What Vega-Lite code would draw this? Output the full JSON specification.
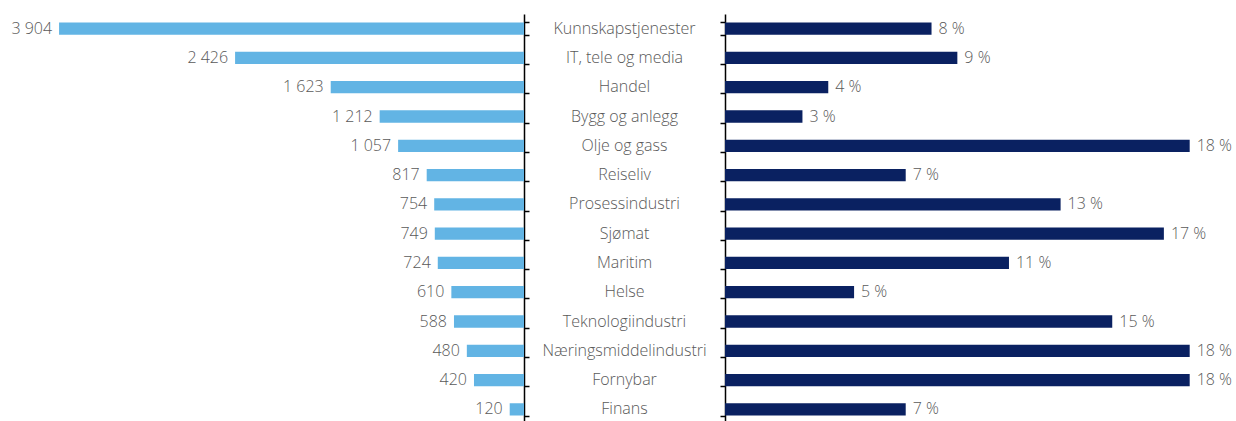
{
  "$schema": "https://vega.github.io/schema/vega-lite/v6.json",
  "padding": {"top": 14, "left": 0, "right": 0, "bottom": 0},
  "config": {
    "view": {"stroke": null},
    "font": "Open Sans",
    "locale": {"number": {"decimal": ",", "thousands": " ", "grouping": [3], "currency": ["", " kr"]}}
  },
  "spacing": 0,
  "bounds": "flush",
  "data": {"values": [
    {"bransje": "Kunnskapstjenester", "antall": 3904, "andel": 8},
    {"bransje": "IT, tele og media", "antall": 2426, "andel": 9},
    {"bransje": "Handel", "antall": 1623, "andel": 4},
    {"bransje": "Bygg og anlegg", "antall": 1212, "andel": 3},
    {"bransje": "Olje og gass", "antall": 1057, "andel": 18},
    {"bransje": "Reiseliv", "antall": 817, "andel": 7},
    {"bransje": "Prosessindustri", "antall": 754, "andel": 13},
    {"bransje": "Sjømat", "antall": 749, "andel": 17},
    {"bransje": "Maritim", "antall": 724, "andel": 11},
    {"bransje": "Helse", "antall": 610, "andel": 5},
    {"bransje": "Teknologiindustri", "antall": 588, "andel": 15},
    {"bransje": "Næringsmiddelindustri", "antall": 480, "andel": 18},
    {"bransje": "Fornybar", "antall": 420, "andel": 18},
    {"bransje": "Finans", "antall": 120, "andel": 7}
  ]},
  "transform": [{"calculate": "datum.andel + ' %'", "as": "label"}],
  "hconcat": [
    {
      "width": 524,
      "height": 410,
      "encoding": {
        "y": {"field": "bransje", "type": "nominal",
              "sort": ["Kunnskapstjenester", "IT, tele og media", "Handel", "Bygg og anlegg", "Olje og gass", "Reiseliv", "Prosessindustri", "Sjømat", "Maritim", "Helse", "Teknologiindustri", "Næringsmiddelindustri", "Fornybar", "Finans"],
              "scale": {"paddingInner": 0.58, "paddingOuter": 0.29},
              "axis": {"orient": "right", "title": null, "labels": false, "tickBand": "extent", "minExtent": 0,
                       "domainColor": "#000000", "domainWidth": 1.5, "tickColor": "#000000", "tickWidth": 1.5, "tickSize": 5}},
        "x": {"field": "antall", "type": "quantitative", "scale": {"domain": [0, 4400], "reverse": true, "nice": false}, "axis": null}
      },
      "layer": [
        {"mark": {"type": "bar", "color": "#62B4E4"}},
        {"mark": {"type": "text", "align": "right", "baseline": "middle", "dx": -7, "fontSize": 16, "fontWeight": 300, "color": "#595959"},
         "encoding": {"text": {"field": "antall", "type": "quantitative", "format": ",d"}}}
      ]
    },
    {
      "width": 201,
      "height": 410,
      "mark": {"type": "text", "align": "center", "baseline": "middle", "fontSize": 16, "fontWeight": 300, "color": "#595959"},
      "encoding": {
        "y": {"field": "bransje", "type": "nominal",
              "sort": ["Kunnskapstjenester", "IT, tele og media", "Handel", "Bygg og anlegg", "Olje og gass", "Reiseliv", "Prosessindustri", "Sjømat", "Maritim", "Helse", "Teknologiindustri", "Næringsmiddelindustri", "Fornybar", "Finans"],
              "scale": {"paddingInner": 0.58, "paddingOuter": 0.29},
              "axis": null},
        "text": {"field": "bransje", "type": "nominal"}
      }
    },
    {
      "width": 506,
      "height": 410,
      "encoding": {
        "y": {"field": "bransje", "type": "nominal",
              "sort": ["Kunnskapstjenester", "IT, tele og media", "Handel", "Bygg og anlegg", "Olje og gass", "Reiseliv", "Prosessindustri", "Sjømat", "Maritim", "Helse", "Teknologiindustri", "Næringsmiddelindustri", "Fornybar", "Finans"],
              "scale": {"paddingInner": 0.58, "paddingOuter": 0.29},
              "axis": {"orient": "left", "title": null, "labels": false, "tickBand": "extent", "minExtent": 0,
                       "domainColor": "#000000", "domainWidth": 1.5, "tickColor": "#000000", "tickWidth": 1.5, "tickSize": 5}},
        "x": {"field": "andel", "type": "quantitative", "scale": {"domain": [0, 19.6], "nice": false}, "axis": null}
      },
      "layer": [
        {"mark": {"type": "bar", "color": "#0A2161"}},
        {"mark": {"type": "text", "align": "left", "baseline": "middle", "dx": 7, "fontSize": 16, "fontWeight": 300, "color": "#595959"},
         "encoding": {"text": {"field": "label", "type": "nominal"}}}
      ]
    }
  ]
}
